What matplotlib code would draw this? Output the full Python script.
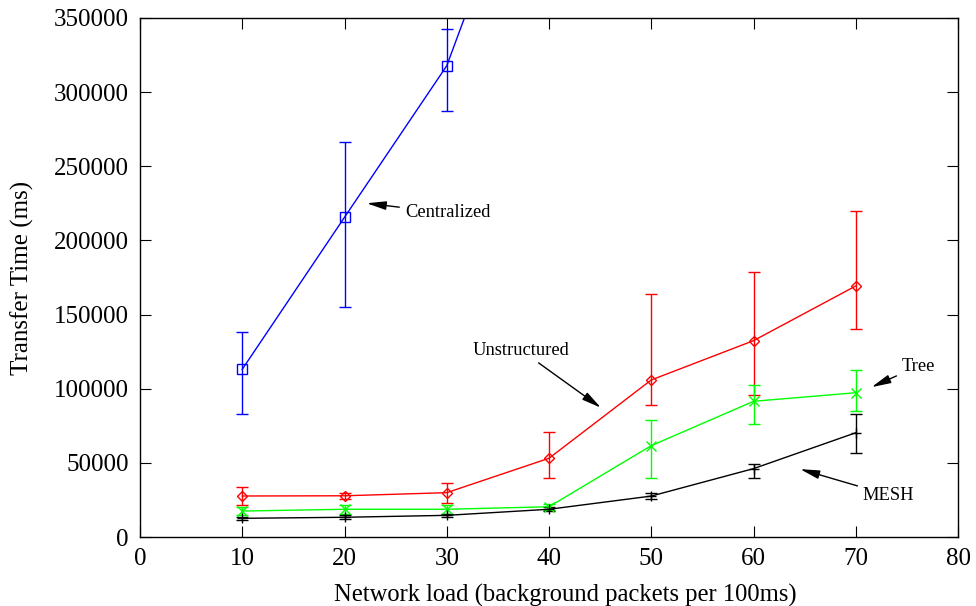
import matplotlib
matplotlib.use("Agg")
import matplotlib.pyplot as plt

plt.rcParams['font.family'] = ['Liberation Serif', 'DejaVu Serif']

# Background load (packets per 100 ms)
loads = [10, 20, 30, 40, 50, 60, 70]

# Centralized: only first points fall inside the plotted range
central_x = [10, 20, 30, 40]
central_y = [113100, 215600, 317800, 504000]
central_lo = [83150, 155100, 287500, 504000]
central_hi = [138450, 266600, 342600, 504000]

unstr_y = [27650, 27800, 29900, 53100, 105900, 132400, 169300]
unstr_lo = [21600, 25800, 23000, 40000, 89200, 96000, 140500]
unstr_hi = [33700, 29800, 36600, 70600, 164100, 178700, 219900]

tree_y = [17500, 18700, 18700, 20400, 61600, 91500, 97300]
tree_lo = [14500, 15700, 15700, 18400, 39800, 76000, 85200]
tree_hi = [20500, 21700, 21700, 22400, 78900, 102300, 112600]

mesh_y = [12600, 13300, 14600, 18700, 27600, 46100, 70300]
mesh_lo = [11600, 12000, 13600, 17200, 25800, 40000, 56500]
mesh_hi = [13600, 14600, 15600, 20200, 29400, 49000, 83000]

xticks = [0, 10, 20, 30, 40, 50, 60, 70, 80]
yticks = [0, 50000, 100000, 150000, 200000, 250000, 300000, 350000]

fig = plt.figure(figsize=(9.76, 6.06), dpi=100)
ax = fig.add_axes([140/976, 1 - 537/606, (958-140)/976, (537-18)/606])


def draw(x, y, lo, hi, color, marker, ms):
    yerr = [[yy - l for yy, l in zip(y, lo)], [h - yy for yy, h in zip(y, hi)]]
    ax.errorbar(x, y, yerr=yerr, color=color, marker=marker, markersize=ms,
                markerfacecolor='none', markeredgecolor=color, markeredgewidth=1.0,
                linewidth=1.0, elinewidth=1.0, capsize=4, capthick=1.0)


draw(central_x, central_y, central_lo, central_hi, '#0000ff', 's', 7)
draw(loads, unstr_y, unstr_lo, unstr_hi, '#ff0000', 'D', 5.5)
draw(loads, tree_y, tree_lo, tree_hi, '#00ff00', 'x', 7)
draw(loads, mesh_y, mesh_lo, mesh_hi, '#000000', '+', 7)

ax.set_xlim(0, 80)
ax.set_ylim(0, 350000)
ax.set_xticks(xticks)
ax.set_yticks(yticks)
ax.tick_params(direction='in', length=8, width=0.8, top=True, right=True,
               labelsize=18, pad=8)
for s in ax.spines.values():
    s.set_linewidth(1.0)

ax.set_xlabel('Network load (background packets per 100ms)', fontsize=17.7, labelpad=9)
ax.xaxis.set_label_coords(0.52, -0.09)
ax.set_ylabel('Transfer Time (ms)', fontsize=18, labelpad=14)

arrow = dict(arrowstyle='-|>,head_length=0.9,head_width=0.2', color='black',
             lw=1.0, mutation_scale=13)
ax.annotate('Centralized', xy=(21.9, 225300), xytext=(25.9, 218500),
            fontsize=13.3, va='center', ha='left', arrowprops=arrow)
ax.annotate('Unstructured', xy=(45.3, 86100), xytext=(32.5, 126100),
            fontsize=13.3, va='center', ha='left', arrowprops=arrow)
ax.annotate('Tree', xy=(71.3, 100300), xytext=(74.5, 115300),
            fontsize=13.3, va='center', ha='left', arrowprops=arrow)
ax.annotate('MESH', xy=(64.3, 46300), xytext=(70.7, 28300),
            fontsize=13.3, va='center', ha='left', arrowprops=arrow)

fig.savefig('out.png', dpi=100)
